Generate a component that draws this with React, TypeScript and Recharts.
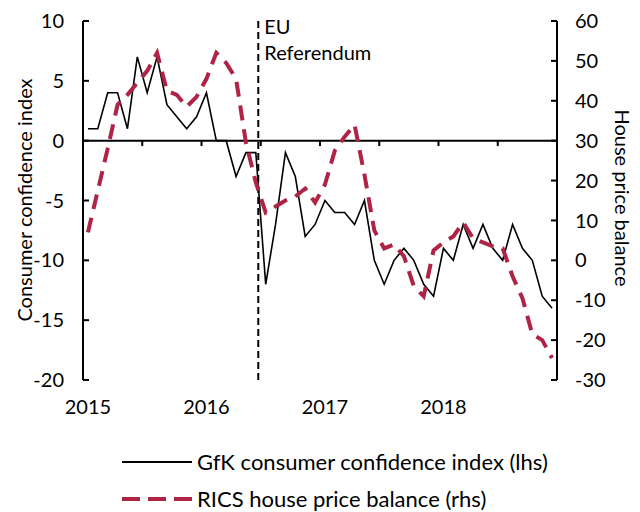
import { LineChart, Line, XAxis, YAxis, ReferenceLine } from "recharts";

// monthly, Jan 2015 - Dec 2018
const years = ["2015", "2016", "2017", "2018"];

const gfk = [
  1, 1, 4, 4, 1, 7, 4, 7, 3, 2, 1, 2,
  4, 0, 0, -3, -1, -1, -12, -7, -1, -3, -8, -7,
  -5, -6, -6, -7, -5, -10, -12, -10, -9, -10, -12, -13,
  -9, -10, -7, -9, -7, -9, -10, -7, -9, -10, -13, -14,
];

const rics = [
  7, 17.5, 28, 39, 41.5, 44.5, 47.5, 52, 42.5, 41.5, 38.5, 41,
  45.5, 52, 49.5, 45.5, 29.5, 19.5, 12, 13.5, 15, 16, 18, 14.5,
  19, 27.5, 31, 34, 21.5, 7.5, 3, 4, 1, -6.5, -9, 2.5,
  4.5, 6, 9.5, 5.5, 4.5, 3.5, 3, -4, -9.5, -18.5, -20, -24.5,
];

const lhsTicks = [-20, -15, -10, -5, 0, 5, 10];
const rhsTicks = [-30, -20, -10, 0, 10, 20, 30, 40, 50, 60];
const yearTicks = [0, 12, 24, 36];
const halfYearMarks = [5.5, 11.5, 17.5, 23.5, 29.5, 35.5, 41.5];
const referendum = 17.25; // 23 June 2016

const RED = "#af2345";
const FONT = "Lato, 'DejaVu Sans', sans-serif";

const data = gfk.map((v, i) => ({ i, gfk: v, rics: rics[i] }));

const tickStyle = { fill: "#000", fontSize: 20, fontFamily: FONT };

export default function App() {
  return (
    <div style={{ position: "absolute", left: 0, top: 0, width: 640, height: 512, background: "#fff", fontFamily: FONT }}>
      <LineChart width={640} height={512} data={data} margin={{ top: 21, right: 0, bottom: 102, left: 0 }}>
        <XAxis
          dataKey="i"
          type="number"
          domain={[-0.5, 47.5]}
          ticks={yearTicks}
          tickFormatter={(v) => years[Math.round(v / 12)]}
          axisLine={false}
          tickLine={false}
          tickSize={0}
          tickMargin={20}
          height={30}
          tick={tickStyle}
          allowDataOverflow
        />
        <YAxis
          yAxisId="left"
          domain={[-20, 10]}
          ticks={lhsTicks}
          width={83}
          tickSize={-6}
          tickMargin={25}
          axisLine={{ stroke: "#000", strokeWidth: 2 }}
          tickLine={{ stroke: "#000", strokeWidth: 2 }}
          tick={tickStyle}
          label={{
            content: () => (
              <text x={24} y={200} transform="rotate(-90 24 200)" textAnchor="middle" dominantBaseline="central"
                fontSize={20} fontFamily={FONT} fill="#000">
                Consumer confidence index
              </text>
            ),
          }}
        />
        <YAxis
          yAxisId="right"
          orientation="right"
          domain={[-30, 60]}
          ticks={rhsTicks}
          width={83}
          tickSize={-6}
          tickMargin={24}
          axisLine={{ stroke: "#000", strokeWidth: 2 }}
          tickLine={{ stroke: "#000", strokeWidth: 2 }}
          tick={tickStyle}
          label={{
            content: () => (
              <text x={623} y={198} transform="rotate(90 623 198)" textAnchor="middle" dominantBaseline="central"
                fontSize={20} fontFamily={FONT} fill="#000">
                House price balance
              </text>
            ),
          }}
        />
        <ReferenceLine yAxisId="left" y={0} stroke="#000" strokeWidth={2} />
        {halfYearMarks.map((m) => (
          <ReferenceLine
            key={m}
            yAxisId="left"
            segment={[{ x: m, y: 0 }, { x: m, y: -0.45 }]}
            stroke="#000"
            strokeWidth={2}
          />
        ))}
        <ReferenceLine
          yAxisId="left"
          x={referendum}
          stroke="#000"
          strokeWidth={2}
          strokeDasharray="7 4"
          label={{
            content: (p: any) => {
              const x = p.viewBox.x + 6;
              return (
                <text x={x} y={34} fontSize={20} fontFamily={FONT} fill="#000">
                  <tspan x={x} y={34}>EU</tspan>
                  <tspan x={x} y={60}>Referendum</tspan>
                </text>
              );
            },
          }}
        />
        <Line yAxisId="left" dataKey="gfk" stroke="#000" strokeWidth={1.6} dot={false} isAnimationActive={false} />
        <Line yAxisId="right" dataKey="rics" stroke={RED} strokeWidth={4} strokeDasharray="15 9" dot={false} isAnimationActive={false} />
      </LineChart>
      <div style={{ position: "absolute", left: 122, top: 443, fontSize: 22, color: "#000" }}>
        <div style={{ display: "flex", alignItems: "center", height: 37 }}>
          <svg width={75} height={10}>
            <line x1={0} y1={5} x2={70} y2={5} stroke="#000" strokeWidth={2} />
          </svg>
          <span>GfK consumer confidence index (lhs)</span>
        </div>
        <div style={{ display: "flex", alignItems: "center", height: 37 }}>
          <svg width={75} height={10}>
            <line x1={0} y1={5} x2={70} y2={5} stroke={RED} strokeWidth={4} strokeDasharray="18 8" />
          </svg>
          <span>RICS house price balance (rhs)</span>
        </div>
      </div>
    </div>
  );
}
